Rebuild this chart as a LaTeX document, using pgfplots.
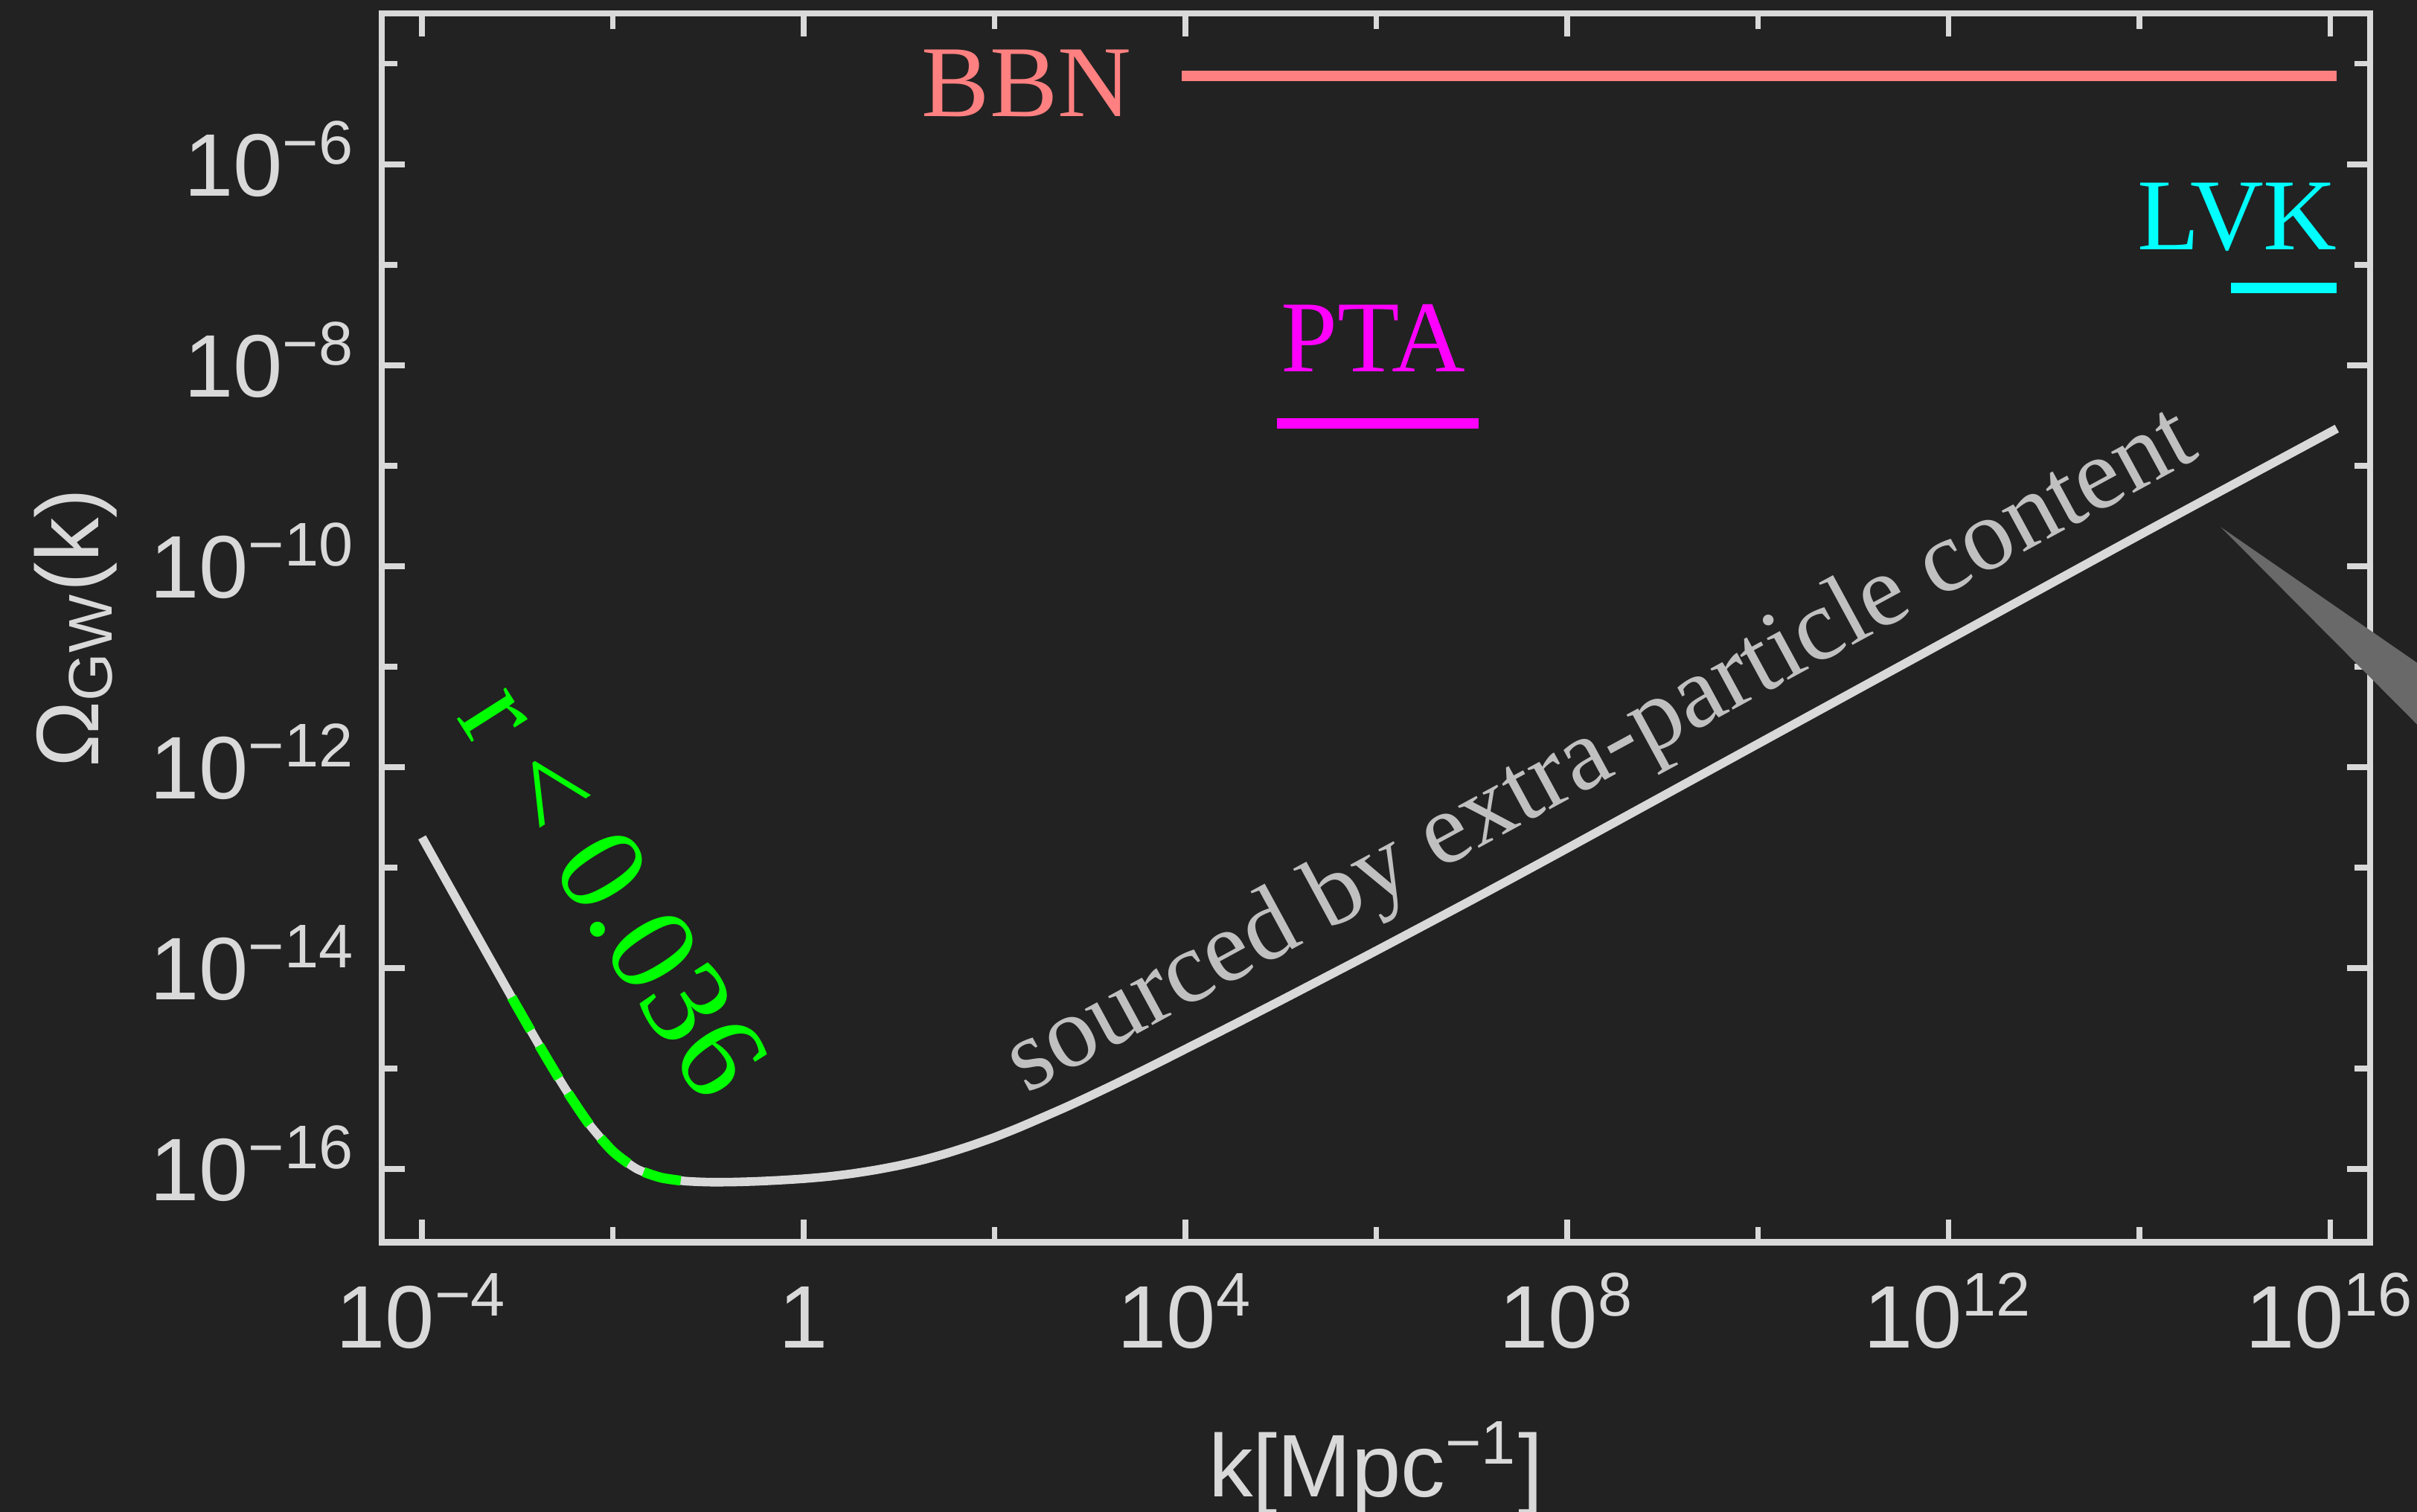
\documentclass[border=0pt]{standalone}
\usepackage{fontspec}
\setmainfont{Liberation Sans}
\newfontfamily\serif{Liberation Serif}
\usepackage{pgfplots}
\pgfplotsset{compat=1.18}
\usetikzlibrary{backgrounds}

\definecolor{bg}{HTML}{222222}
\definecolor{fg}{HTML}{D9D9D9}
\definecolor{note}{HTML}{C0C0C0}
\definecolor{bbn}{HTML}{FF8080}
\definecolor{pta}{HTML}{FF00FF}
\definecolor{lvk}{HTML}{00FFFF}
\definecolor{rgreen}{HTML}{00FF00}
\definecolor{wedge}{HTML}{696969}

\newcommand{\lab}{\fontsize{14.4}{16}\selectfont}
\newcommand{\ann}{\serif\fontsize{16.5}{18}\selectfont}

\begin{document}
\begin{tikzpicture}[show background rectangle,
  background rectangle/.style={fill=bg, draw=none}, inner frame sep=0pt]
\begin{axis}[
    scale only axis, width=322.45pt, height=199.3pt,
    xmode=log, ymode=log,
    xmin=3.8e-5, xmax=2.61e16, ymin=1.86e-17, ymax=3.16e-5,
    clip=false,
    axis line style={fg, line width=1pt},
    every tick/.style={fg, line width=0.9pt},
    major tick length=3.7pt, minor tick length=2.5pt,
    tick align=inside,
    xtick={1e-4,1,1e4,1e8,1e12,1e16},
    xticklabels={10\textsuperscript{−4},1,10\textsuperscript{4},10\textsuperscript{8},10\textsuperscript{12},10\textsuperscript{16}},
    minor xtick={1e-2,1e2,1e6,1e10,1e14},
    ytick={1e-16,1e-14,1e-12,1e-10,1e-8,1e-6},
    yticklabels={10\textsuperscript{−16},10\textsuperscript{−14},10\textsuperscript{−12},10\textsuperscript{−10},10\textsuperscript{−8},10\textsuperscript{−6}},
    minor ytick={1e-15,1e-13,1e-11,1e-9,1e-7,1e-5},
    ticklabel style={font=\lab, text=fg, inner sep=0pt},
    xticklabel style={anchor=base, yshift=-17.1pt},
    yticklabel style={anchor=base east, xshift=-4pt, yshift=-5.15pt},
    every axis x label/.style={at={([yshift=-41.2pt]axis description cs:0.5,0)}, anchor=base, font=\lab, text=fg, inner sep=0pt},
    every axis y label/.style={at={([xshift=-46pt]axis description cs:0,0.5)}, rotate=90, anchor=base, font=\lab, text=fg, inner sep=0pt},
    xlabel={k[Mpc\textsuperscript{−1}]},
    ylabel={Ω\textsubscript{GW}(k)},
]
% gray wedge reaching past the right edge
\addplot[fill=wedge, draw=none] coordinates {
    (7.13e14,2.44e-10) (3.16e17,4.47e-12) (3.16e17,7.24e-13)
} -- cycle;

% main spectrum
\addplot[fg, line width=1.4pt, smooth, tension=0.4] coordinates {
    (1e-4,1.995e-13) (1.778e-4,7.50e-14) (3.162e-4,2.825e-14)
    (5.623e-4,1.067e-14) (1e-3,4.05e-15) (1.778e-3,1.567e-15)
    (3.162e-3,6.31e-16) (5.623e-3,2.805e-16) (1e-2,1.496e-16)
    (1.778e-2,1.002e-16) (3.162e-2,8.22e-17) (5.623e-2,7.59e-17)
    (0.1,7.40e-17) (0.1778,7.41e-17) (0.3162,7.53e-17) (0.5623,7.73e-17)
    (1,8.00e-17) (1.778,8.39e-17) (3.162,8.97e-17) (5.623,9.77e-17)
    (10,1.084e-16) (17.78,1.230e-16) (31.62,1.432e-16) (56.23,1.706e-16)
    (100,2.070e-16) (177.8,2.570e-16) (316.2,3.251e-16) (562.3,4.130e-16)
    (1000,5.321e-16) (1778,6.902e-16) (3162,9.016e-16) (5623,1.183e-15)
    (1e4,1.560e-15) (3.162e4,2.710e-15) (1e5,4.753e-15) (3.162e5,8.395e-15)
    (1e6,1.486e-14) (1e7,4.742e-14) (1e8,1.549e-13) (1e10,1.70e-12)
    (1e12,1.86e-11) (1e14,2.04e-10) (1.17e16,2.34e-9)
};

% r < 0.036 segment
\addplot[rgreen, line width=1.6pt, dash pattern=on 6.2pt off 2.8pt, smooth, tension=0.4] coordinates {
    (8.71e-4,5.11e-15) (1e-3,4.05e-15) (1.778e-3,1.567e-15)
    (3.162e-3,6.31e-16) (5.623e-3,2.805e-16) (1e-2,1.496e-16)
    (1.778e-2,1.002e-16) (3.162e-2,8.22e-17) (5.37e-2,7.62e-17)
};

% bounds
\addplot[bbn, line width=1.7pt] coordinates {(9.12e3,7.64e-6) (1.17e16,7.64e-6)};
\addplot[pta, line width=1.7pt] coordinates {(9.12e4,2.65e-9) (1.175e7,2.65e-9)};
\addplot[lvk, line width=1.7pt] coordinates {(9.12e14,5.89e-8) (1.17e16,5.89e-8)};

\node[anchor=base east, inner sep=0pt, text=bbn, font=\ann] at (axis cs:2.78e3,2.98e-6) {BBN};
\node[anchor=base, inner sep=0pt, text=pta, font=\ann] at (axis cs:9.31e5,8.65e-9) {PTA};
\node[anchor=base east, inner sep=0pt, text=lvk, font=\ann] at (axis cs:1.21e16,1.41e-7) {LVK};
\node[anchor=base, inner sep=0pt, text=rgreen, rotate=-57.5,
      font=\serif\fontsize{20.5}{22}\selectfont] at (axis cs:4.45e-3,3.66e-14) {r < 0.036};
\node[anchor=base, inner sep=0pt, text=note, rotate=28.5, font=\ann]
      at (axis cs:3.08e8,8.30e-13) {sourced by extra-particle content};
\end{axis}
\pgfresetboundingbox
\path[use as bounding box] ([xshift=-61.95pt,yshift=-43.7pt]current axis.south west)
    rectangle ([xshift=7.6pt,yshift=2.2pt]current axis.north east);
\end{tikzpicture}
\end{document}
